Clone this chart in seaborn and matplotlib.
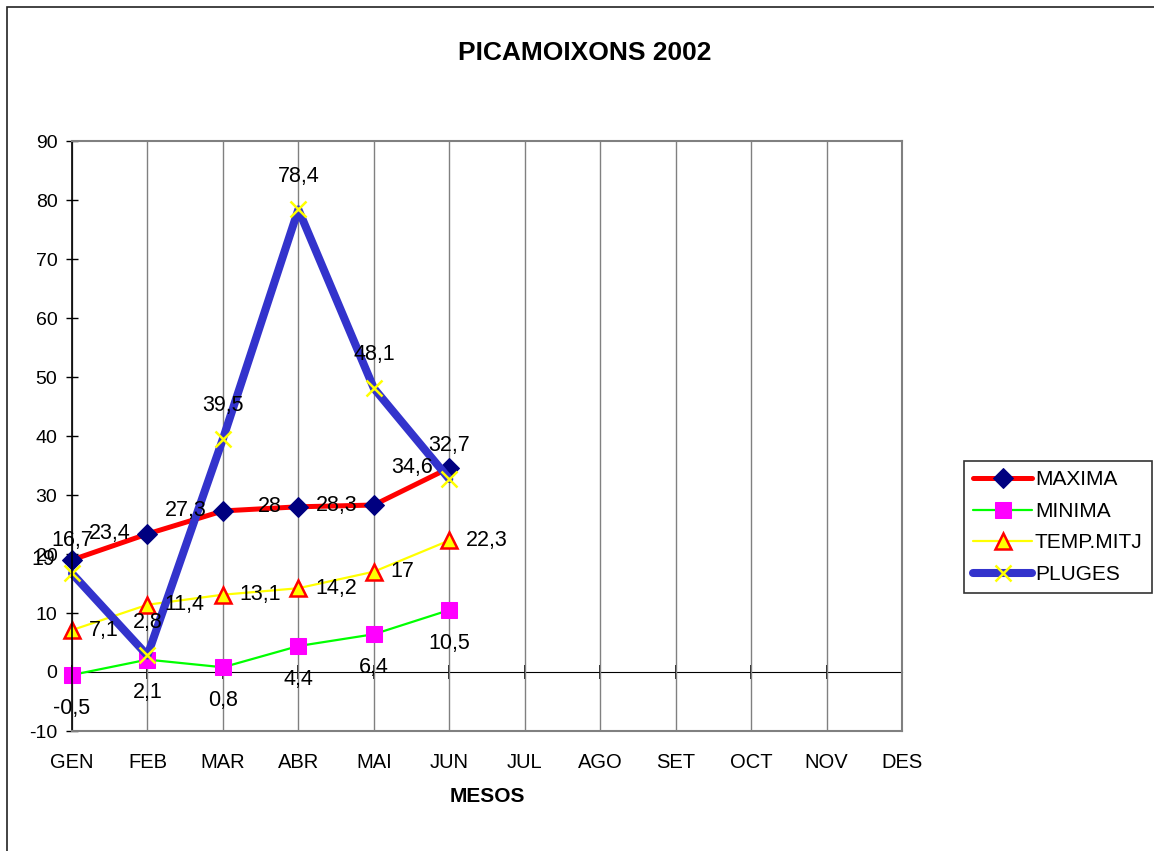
import pandas as pd
import matplotlib
matplotlib.use("Agg")
import matplotlib.pyplot as plt
from matplotlib.patches import Rectangle
import seaborn as sns

# Data
months = ["GEN", "FEB", "MAR", "ABR", "MAI", "JUN", "JUL", "AGO", "SET", "OCT", "NOV", "DES"]
maxima = [19, 23.4, 27.3, 28, 28.3, 34.6]
minima = [-0.5, 2.1, 0.8, 4.4, 6.4, 10.5]
temp_mitj = [7.1, 11.4, 13.1, 14.2, 17, 22.3]
pluges = [16.7, 2.8, 39.5, 78.4, 48.1, 32.7]
y_ticks = list(range(-10, 91, 10))

sns.set_style("white")
plt.rcParams["font.family"] = ["Liberation Sans", "DejaVu Sans"]
plt.rcParams["axes.unicode_minus"] = False
plt.rcParams["text.color"] = "black"
plt.rcParams["axes.labelcolor"] = "black"
plt.rcParams["xtick.color"] = "black"
plt.rcParams["ytick.color"] = "black"

df = pd.DataFrame({
    "pos": range(len(maxima)),
    "MAXIMA": maxima,
    "MINIMA": minima,
    "TEMP.MITJ": temp_mitj,
    "PLUGES": pluges,
})

fig = plt.figure(figsize=(11.54, 8.51), dpi=100)
W, H = 1154, 851
ax = fig.add_axes([72 / W, 1 - 731 / H, (902 - 72) / W, (731 - 141) / H])

# style + label placement per series: (offset in points, ha, va)
styles = {
    "MAXIMA": dict(color="#FF0000", linewidth=3.6, marker="D", markersize=10,
                   markerfacecolor="#000080", markeredgecolor="#000080"),
    "MINIMA": dict(color="#00FF00", linewidth=1.6, marker="s", markersize=11.5,
                   markerfacecolor="#FF00FF", markeredgecolor="#FF00FF"),
    "TEMP.MITJ": dict(color="#FFFF00", linewidth=1.6, marker="^", markersize=11,
                      markerfacecolor="#FFFF00", markeredgecolor="#FF0000",
                      markeredgewidth=1.8),
    "PLUGES": dict(color="#3333CC", linewidth=5.8, marker="x", markersize=12,
                   markeredgecolor="#FFFF00", markeredgewidth=1.8),
}
label_pos = {
    "MAXIMA": ((-12, 0), "right", "center"),
    "MINIMA": ((0, -24), "center", "center"),
    "TEMP.MITJ": ((12, 0), "left", "center"),
    "PLUGES": ((0, 24), "center", "center"),
}

for name in ["MAXIMA", "MINIMA", "TEMP.MITJ", "PLUGES"]:
    sns.lineplot(data=df, x="pos", y=name, ax=ax, label=name, legend=False,
                 solid_capstyle="round", clip_on=False, **styles[name])
    off, ha, va = label_pos[name]
    for x, y in zip(df["pos"], df[name]):
        ax.annotate(f"{y:g}".replace(".", ","), (x, y), xytext=off,
                    textcoords="offset points", ha=ha, va=va, fontsize=15.5,
                    color="black", zorder=5)

ax.set_xlim(0, len(months) - 1)
ax.set_ylim(-10, 90)
ax.set_xticks(range(len(months)))
ax.set_xticklabels(months)
ax.set_yticks(y_ticks)
ax.tick_params(axis="x", length=0, pad=16, labelsize=14.5, labelcolor="black")
ax.tick_params(axis="y", direction="inout", length=9, width=1, pad=6,
               labelsize=14, colors="black", left=True)
ax.grid(axis="x", color="#808080", linewidth=1)
ax.grid(axis="y", visible=False)
for side in ["top", "right", "bottom"]:
    ax.spines[side].set_color("#808080")
    ax.spines[side].set_linewidth(1.5)
ax.spines["left"].set_color("black")
ax.spines["left"].set_linewidth(1.2)
ax.set_xlabel("MESOS", fontsize=15, fontweight="bold", labelpad=11, color="black")
ax.set_ylabel("")

# category axis crossing at zero
zero_frac = (0 - y_ticks[0]) / (y_ticks[-1] - y_ticks[0])
sec = ax.secondary_xaxis(zero_frac)
sec.set_xticks(range(len(months)))
sec.tick_params(direction="inout", length=10, width=1.2, labelbottom=False,
                labeltop=False, color="black")
sec.spines["bottom"].set_color("black")
sec.spines["top"].set_color("black")

fig.text(585 / W, 1 - 53 / H, "PICAMOIXONS 2002", ha="center", va="center",
         fontsize=19, fontweight="bold", color="black")

handles, labels = ax.get_legend_handles_labels()
leg = fig.legend(handles, labels, loc="upper left",
                 bbox_to_anchor=(964 / W, 1 - 461 / H), borderaxespad=0,
                 fontsize=15, frameon=True, fancybox=False, edgecolor="black",
                 handlelength=2.8, handletextpad=0.15, labelspacing=0.6,
                 borderpad=0.45)
leg.get_frame().set_linewidth(1.2)
for t in leg.get_texts():
    t.set_color("black")

fig.add_artist(Rectangle((7 / W, -0.1), 1.2, 1.1 - 7 / H, transform=fig.transFigure,
                         fill=False, edgecolor="#222222", linewidth=1.2))

fig.savefig("out.png", dpi=100)
